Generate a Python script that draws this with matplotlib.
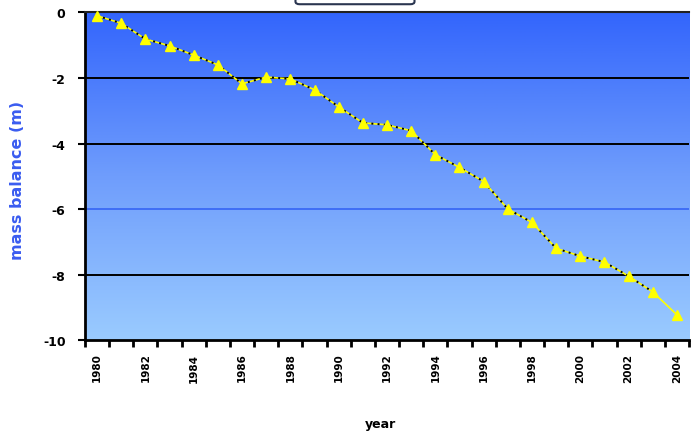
import numpy as np
import matplotlib
matplotlib.use("Agg")
import matplotlib.pyplot as plt
from matplotlib.colors import LinearSegmentedColormap
from matplotlib.patches import FancyBboxPatch

# Cumulative glacier mass balance per year
years = list(range(1980, 2005))
mass_balance = [-0.1, -0.33, -0.81, -1.02, -1.30, -1.60, -2.18, -1.97, -2.03, -2.36,
                -2.88, -3.37, -3.43, -3.61, -4.34, -4.73, -5.16, -6.0, -6.41, -7.2,
                -7.44, -7.62, -8.05, -8.53, -9.23]
y_ticks = [0, -2, -4, -6, -8, -10]
x_tick_years = list(range(1980, 2005, 2))

fig = plt.figure(figsize=(6.92, 4.35), dpi=100)
ax = fig.add_axes([0.1228, 0.216, 0.8729, 0.753])

n = len(years)
xpos = np.arange(n)
ax.set_xlim(-0.5, n - 0.5)
ax.set_ylim(-10, 0)

# vertical blue gradient fill of the plot area (light at bottom, deep blue at top)
cmap = LinearSegmentedColormap.from_list("bg", ["#9acbff", "#6f9dfc", "#3365fc"])
grad = np.linspace(0, 1, 256).reshape(-1, 1)
ax.imshow(grad, aspect="auto", cmap=cmap, extent=[-0.5, n - 0.5, -10, 0],
          origin="lower", zorder=0)

# horizontal gridlines
for v in [-2, -4, -8]:
    ax.axhline(v, color="black", lw=1.4, zorder=1)
ax.axhline(-6, color="#3f6ef5", lw=1.4, zorder=1)

# series: yellow line with dotted dark overlay, triangle markers
ax.plot(xpos, mass_balance, color="#ffff00", lw=1.2, zorder=2)
ax.plot(xpos[:-1], mass_balance[:-1], color="black", lw=1.4,
        linestyle=(0, (1, 2.2)), zorder=3)
ax.plot(xpos, mass_balance, linestyle="none", marker="^", markersize=7.5,
        markerfacecolor="#ffff00", markeredgecolor="#ffff00", zorder=4,
        clip_on=False)

# axes frame
for side in ["left", "bottom"]:
    ax.spines[side].set_linewidth(2)
    ax.spines[side].set_color("black")
ax.spines["top"].set_linewidth(1.5)
ax.spines["top"].set_color("#222222")
ax.spines["right"].set_visible(False)

# y axis
ax.set_yticks(y_ticks)
ax.set_yticklabels([str(v) for v in y_ticks], fontsize=9, fontweight="bold")
ax.tick_params(axis="y", direction="out", length=5, width=1.5, pad=9)

# x axis: category labels every two years, tick marks between categories
ax.set_xticks([years.index(y) for y in x_tick_years])
ax.set_xticklabels([str(y) for y in x_tick_years], rotation=90,
                   fontsize=7.5, fontweight="bold")
ax.tick_params(axis="x", which="major", length=0, pad=9)
ax.set_xticks(np.arange(-0.5, n, 1.0), minor=True)
ax.tick_params(axis="x", which="minor", direction="out", length=5, width=2)

ax.set_ylabel("mass balance (m)", color="#3a5cf0", fontsize=11.5,
              fontweight="bold")
ax.yaxis.set_label_coords(-0.1, 0.49)
ax.set_xlabel("year", fontsize=9, fontweight="bold", va="center")
ax.xaxis.set_label_coords(0.49, -0.255)

# title box partly cut off at the top edge
box = FancyBboxPatch((0.427, 0.988), 0.172, 0.05,
                     boxstyle="round,pad=0,rounding_size=0.006",
                     transform=fig.transFigure, facecolor="white",
                     edgecolor="#2a3550", lw=1.5)
fig.patches.append(box)

fig.savefig("out.png", dpi=100)
